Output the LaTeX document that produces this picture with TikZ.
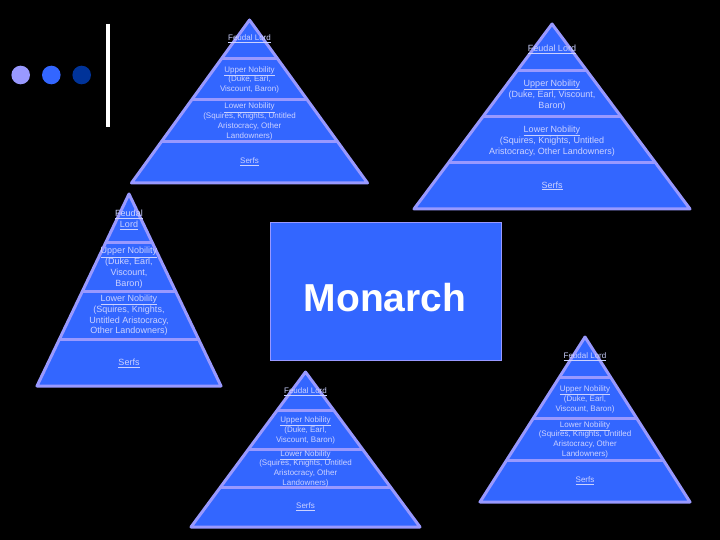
\documentclass[tikz,border=0pt]{standalone}
\usepackage{fontspec}
\setmainfont{Liberation Sans}
\definecolor{pfill}{HTML}{3366FF}
\definecolor{pline}{HTML}{9999FF}
\definecolor{ptext}{HTML}{CCD2FF}
\definecolor{dkblue}{HTML}{003399}
\newcommand\ulx[1]{\underline{#1}}
% #1 name, #2 apex x, #3 apex y, #4 base y, #5 half width, #6 #7 #8 divider y
\newcommand\pyr[8]{%
  \coordinate (#1a) at (#2,#3);
  \coordinate (#1l) at (#2-#5,#4);
  \coordinate (#1r) at (#2+#5,#4);
  \fill[pfill] (#1a) -- (#1l) -- (#1r) -- cycle;
  \begin{scope}
    \clip (#1a) -- (#1l) -- (#1r) -- cycle;
    \draw[pyrline] (#2-250,#6) -- (#2+250,#6);
    \draw[pyrline] (#2-250,#7) -- (#2+250,#7);
    \draw[pyrline] (#2-250,#8) -- (#2+250,#8);
  \end{scope}
  \draw[pyrline] (#1a) -- (#1l) -- (#1r) -- cycle;
}
\tikzset{
  pyrline/.style={draw=pline, line width=3pt, line join=round},
  lbl/.style={text=ptext, inner sep=0pt, align=center},
  sm/.style={lbl, font=\fontsize{8}{9.8}\selectfont},
  bg/.style={lbl, font=\fontsize{9}{10.9}\selectfont},
}
\begin{document}
\begin{tikzpicture}[x=1pt,y=-1pt]
\fill[black] (0,0) rectangle (720,540);
\useasboundingbox (0,0) rectangle (720,540);

% decoration
\fill[pline] (20.7,75) circle (9.3);
\fill[pfill] (51.3,75) circle (9.3);
\fill[dkblue] (81.7,75) circle (9.3);
\coordinate (vt) at (108,24);
\coordinate (vb) at (108,127);
\draw[white, line width=3.3pt] (vt) -- (vb);

% Monarch box
\node[draw=pline, line width=1pt, fill=pfill, minimum width=230.5pt, minimum height=138pt,
      inner sep=0pt, anchor=north west] (mbox) at (270,222) {};
\node[text=white, font=\fontsize{39}{40}\selectfont\bfseries, inner sep=0pt] (monarch) at (385,298) {Monarch};

% Pyramid 1
\pyr{pa}{249.5}{20}{183}{118}{58.5}{100}{142}
\node[sm] (pa1) at (249.5,39) {\ulx{Feudal Lord}};
\node[sm] (pa2) at (249.5,79.8) {\ulx{Upper Nobility}\\(Duke, Earl,\\Viscount, Baron)};
\node[sm] (pa3) at (249.5,121.3) {\ulx{Lower Nobility}\\(Squires, Knights, Untitled\\Aristocracy, Other\\Landowners)};
\node[sm] (pa4) at (249.5,162) {\ulx{Serfs}};

% Pyramid 2
\pyr{pb}{552}{24}{209}{138}{71}{117}{163}
\node[bg] (pb1) at (552,49.5) {\ulx{Feudal Lord}};
\node[bg] (pb2) at (552,95) {\ulx{Upper Nobility}\\(Duke, Earl, Viscount,\\Baron)};
\node[bg] (pb3) at (552,140.8) {\ulx{Lower Nobility}\\(Squires, Knights, Untitled\\Aristocracy, Other Landowners)};
\node[bg] (pb4) at (552,186) {\ulx{Serfs}};

% Pyramid 3
\pyr{pc}{129}{194}{386}{92}{242}{291}{339}
\node[bg] (pc1) at (129,219.8) {\ulx{Feudal}\\\ulx{Lord}};
\node[bg] (pc2) at (129,267.5) {\ulx{Upper Nobility}\\(Duke, Earl,\\Viscount,\\Baron)};
\node[bg] (pc3) at (129,315.3) {\ulx{Lower Nobility}\\(Squires, Knights,\\Untitled Aristocracy,\\Other Landowners)};
\node[bg] (pc4) at (129,363) {\ulx{Serfs}};

% Pyramid 4
\pyr{pd}{305.5}{372}{527}{114.5}{410}{449}{487.5}
\node[sm] (pd1) at (305.5,391.5) {\ulx{Feudal Lord}};
\node[sm] (pd2) at (305.5,430.3) {\ulx{Upper Nobility}\\(Duke, Earl,\\Viscount, Baron)};
\node[sm] (pd3) at (305.5,468.8) {\ulx{Lower Nobility}\\(Squires, Knights, Untitled\\Aristocracy, Other\\Landowners)};
\node[sm] (pd4) at (305.5,507) {\ulx{Serfs}};

% Pyramid 5
\pyr{pe}{585}{337}{502}{105}{377}{418}{460}
\node[sm] (pe1) at (585,356.5) {\ulx{Feudal Lord}};
\node[sm] (pe2) at (585,399.2) {\ulx{Upper Nobility}\\(Duke, Earl,\\Viscount, Baron)};
\node[sm] (pe3) at (585,439.8) {\ulx{Lower Nobility}\\(Squires, Knights, Untitled\\Aristocracy, Other\\Landowners)};
\node[sm] (pe4) at (585,481) {\ulx{Serfs}};
\end{tikzpicture}
\end{document}
